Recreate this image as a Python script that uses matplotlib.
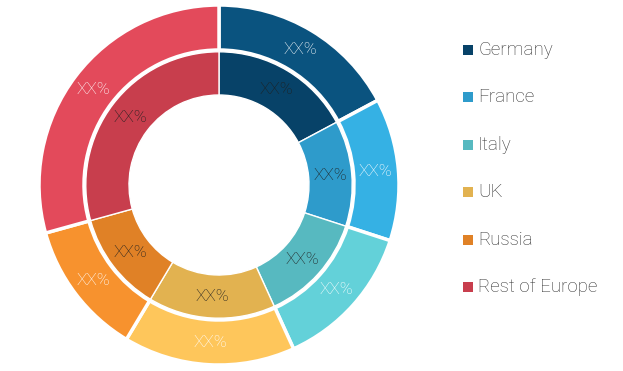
import numpy as np
import matplotlib.pyplot as plt
from matplotlib.patches import Rectangle

# share of each region
regions = ['Germany', 'France', 'Italy', 'UK', 'Russia', 'Rest of Europe']
outer_vals = [17.2, 12.8, 13.2, 15.4, 12.1, 29.3]
inner_vals = [17.2, 12.8, 13.2, 15.4, 12.1, 29.3]
outer_labels = ['XX%'] * 6
inner_labels = ['XX%'] * 6

outer_colors = ['#0a537f', '#35b1e4', '#63d1d9', '#fec65b', '#f7922e', '#e34a5b']
inner_colors = ['#074268', '#2e9bcb', '#57b9c0', '#e2b250', '#e08126', '#c83e4d']

plt.rcParams['font.family'] = ['Roboto', 'DejaVu Sans']

fig = plt.figure(figsize=(6.23, 3.71), dpi=100)
ax = fig.add_axes([39 / 623, 6 / 371, 360 / 623, 360 / 371])

w1, t1 = ax.pie(outer_vals, radius=1.0, startangle=90, counterclock=False,
                colors=outer_colors,
                wedgeprops=dict(width=0.25, edgecolor='white', linewidth=2.5))
w2, t2 = ax.pie(inner_vals, radius=0.74, startangle=90, counterclock=False,
                colors=inner_colors,
                wedgeprops=dict(width=0.24, edgecolor='white', linewidth=1))


def put_labels(wedges, labels, r, color):
    for w, lab in zip(wedges, labels):
        ang = np.deg2rad((w.theta1 + w.theta2) / 2)
        ax.text(r * np.cos(ang), r * np.sin(ang), lab, ha='center', va='center',
                color=color, fontsize=12.5, fontweight='light')


put_labels(w1, outer_labels, 0.875, 'white')
put_labels(w2, inner_labels, 0.62, '#1f1f1f')

ax.set_xlim(-1, 1)
ax.set_ylim(-1, 1)
ax.set_aspect('equal')
ax.axis('off')

# legend drawn by hand
for i, (name, c) in enumerate(zip(regions, inner_colors)):
    yc = 371 - (50 + i * 47.4)
    fig.add_artist(Rectangle((463 / 623, (yc - 5) / 371), 10 / 623, 10 / 371,
                             transform=fig.transFigure, facecolor=c, edgecolor='none'))
    fig.text(478 / 623, yc / 371, name, ha='left', va='center', fontsize=13.5,
             color='#333333', fontweight='light')

fig.savefig('out.png', dpi=100)
